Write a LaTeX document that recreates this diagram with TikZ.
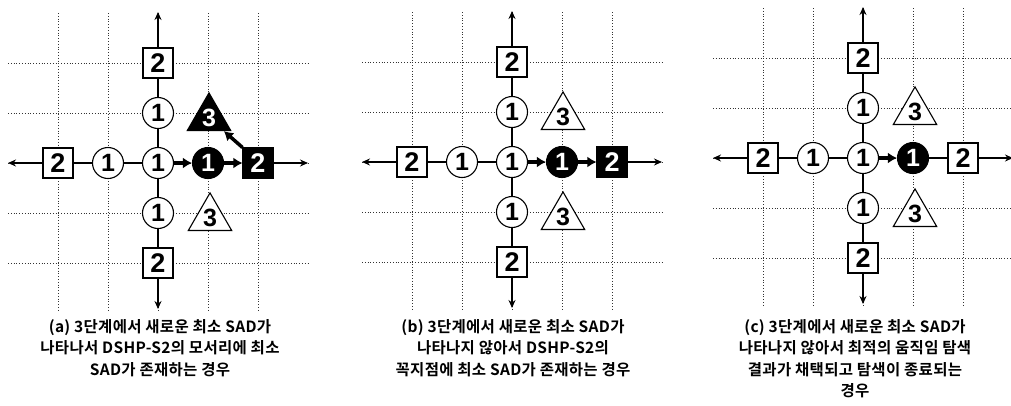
\documentclass[tikz,border=0pt]{standalone}
\usepackage{fontspec}
\setmainfont{Liberation Sans}
\newfontfamily\kr{Noto Sans CJK KR Bold}[LetterSpace=2]
\newfontfamily\numfnt{Liberation Sans}
\usetikzlibrary{shapes.geometric,arrows.meta}
\tikzset{
  gridline/.style={dotted, line width=0.8pt, black!80},
  wc/.style={circle, draw, fill=white, line width=1.1pt, minimum size=31pt, inner sep=0pt, font=\numfnt\bfseries\fontsize{25}{25}\selectfont},
  bc/.style={wc, fill=black, text=white},
  ws/.style={rectangle, draw, fill=white, line width=1.1pt, minimum size=30pt, inner sep=0pt, font=\numfnt\bfseries\fontsize{27}{27}\selectfont},
  bs/.style={ws, fill=black, text=white},
  wt/.style={regular polygon, regular polygon sides=3, draw, fill=white, line width=1.1pt, minimum size=43pt, inner sep=0pt, font=\numfnt\bfseries\fontsize{25}{25}\selectfont},
  bt/.style={wt, fill=black, text=white},
  link/.style={line width=1.3pt},
  outarrow/.style={line width=1.3pt, -{Stealth[length=8pt,width=7pt]}},
  fat/.style={line width=3.5pt, -{Latex[length=9pt,width=11pt]}},
  captxt/.style={font=\kr\fontsize{15.5}{21.5}\selectfont, align=center, anchor=north, inner sep=0pt}
}
\newcommand{\gridlines}{%
  \foreach \g in {-100,-50,0,50,100} {
    \draw[gridline] (\g,-150) -- (\g,147);
    \draw[gridline] (-150,\g) -- (150,\g);
  }}
\newcommand{\cross}{%
  \node[wc] (c) at (0,0) {1};
  \node[wc] (u1) at (0,-50) {1};
  \node[ws] (u2) at (0,-100) {2};
  \node[wc] (d1) at (0,50) {1};
  \node[ws] (d2) at (0,100) {2};
  \node[wc] (l1) at (-50,0) {1};
  \node[ws] (l2) at (-100,0) {2};
  \coordinate (eu) at (0,-151);
  \coordinate (ed) at (0,146);
  \coordinate (el) at (-150,0);
  \coordinate (er) at (150,0);
  \draw[link] (u2) -- (u1) -- (c) -- (d1) -- (d2);
  \draw[link] (l2) -- (l1) -- (c);
  \draw[outarrow] (u2) -- (eu);
  \draw[outarrow] (d2) -- (ed);
  \draw[outarrow] (l2) -- (el);}
\begin{document}
\begin{tikzpicture}[x=1pt,y=-1pt]
\useasboundingbox (0,0) rectangle (1011,405);
% panel (a)
\begin{scope}[shift={(158,163)}, name prefix=a-]
  \gridlines
  \cross
  \node[bc] (r1) at (50,0) {1};
  \node[bs] (r2) at (100,0) {2};
  \node[bt] (t1) at (51,-45) {3};
  \node[wt] (t2) at (52,55) {3};
  \draw[fat] (c) -- (r1);
  \draw[fat] (r1) -- (r2);
  \draw[fat] (r2.north west) -- (t1);
  \draw[outarrow] (r2) -- (er);
\end{scope}
% panel (b)
\begin{scope}[shift={(512,162)}, name prefix=b-]
  \gridlines
  \cross
  \node[bc] (r1) at (50,0) {1};
  \node[bs] (r2) at (100,0) {2};
  \node[wt] (t1) at (51,-45) {3};
  \node[wt] (t2) at (51,55) {3};
  \draw[fat] (c) -- (r1);
  \draw[fat] (r1) -- (r2);
  \draw[outarrow] (r2) -- (er);
\end{scope}
% panel (c)
\begin{scope}[shift={(863,158)}, name prefix=c-]
  \gridlines
  \cross
  \node[bc] (r1) at (50,0) {1};
  \node[ws] (r2) at (100,0) {2};
  \node[wt] (t1) at (52,-46) {3};
  \node[wt] (t2) at (52,56) {3};
  \draw[fat] (c) -- (r1);
  \draw[link] (r1) -- (r2);
  \draw[outarrow] (r2) -- (er);
\end{scope}
\node[captxt] (capa) at (160,319) {(a) 3단계에서 새로운 최소 SAD가\\나타나서 DSHP-S2의 모서리에 최소\\SAD가 존재하는 경우};
\node[captxt] (capb) at (513,319) {(b) 3단계에서 새로운 최소 SAD가\\나타나지 않아서 DSHP-S2의\\꼭지점에 최소 SAD가 존재하는 경우};
\node[captxt] (capc) at (855,319) {(c) 3단계에서 새로운 최소 SAD가\\나타나지 않아서 최적의 움직임 탐색\\결과가 채택되고 탐색이 종료되는\\경우};
\end{tikzpicture}
\end{document}
